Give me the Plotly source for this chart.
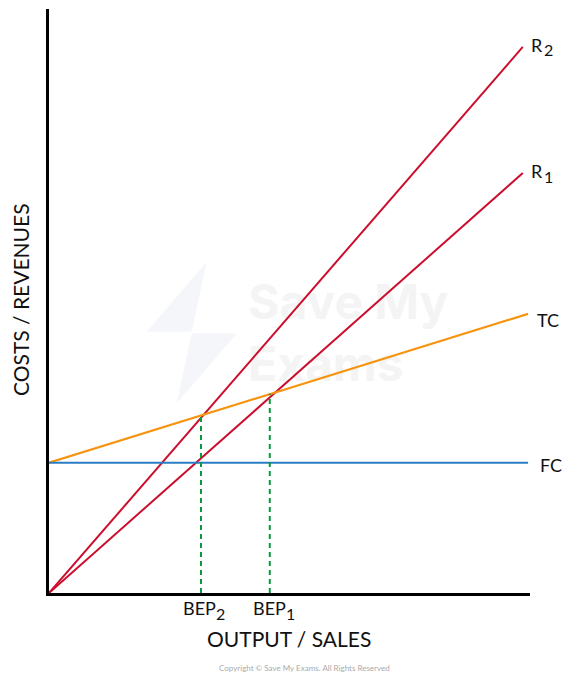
import plotly.graph_objects as go

# Data (arbitrary units)
output_range = [0, 98.5]
r2_values = [0, 93.5]
r1_values = [0, 71.9]
tc_x = [0, 99.6]
tc_values = [22.3, 47.8]
fc_x = [0, 99.6]
fc_values = [22.3, 22.3]
bep2_x = 31.6
bep2_y = 30.4
bep1_x = 45.9
bep1_y = 34.1

RED = "#cc0e2e"
ORANGE = "#f7940f"
BLUE = "#2a7dc4"
GREEN = "#0a9a3c"
FONT = "Lato"
TXT = "#111111"

# plot-area geometry (pixels) used for paper-coordinate helpers
L, R_, T, B = 49, 36, 9, 82
W, H = 566, 675
PW, PH = W - L - R_, H - T - B


def px(xp):
    return (xp - L) / PW


def py(yp):
    return (H - B - yp) / PH


fig = go.Figure()

# faint watermark (drawn beneath everything)
fig.add_trace(go.Scatter(x=[px(248) * 100], y=[py(338) * 100], mode="text",
                         text=["<b>Save My<br>Exams</b>"], textposition="middle right",
                         textfont=dict(family="Inter", size=48, color="#f4f4f5"),
                         hoverinfo="skip"))
logo = [[(206.7, 261.7), (146.7, 331.7), (191.7, 331.7)],
        [(191.7, 333.5), (236.7, 333.5), (176.7, 403.3)]]
for tri in logo:
    path = "M " + " L ".join(f"{px(a):.4f},{py(b):.4f}" for a, b in tri) + " Z"
    fig.add_shape(type="path", path=path, xref="paper", yref="paper",
                  fillcolor="#f5f6fa", line=dict(width=0), layer="below")

fig.add_trace(go.Scatter(x=output_range, y=r2_values, mode="lines",
                         line=dict(color=RED, width=2)))
fig.add_trace(go.Scatter(x=output_range, y=r1_values, mode="lines",
                         line=dict(color=RED, width=2)))
fig.add_trace(go.Scatter(x=tc_x, y=tc_values, mode="lines",
                         line=dict(color=ORANGE, width=2.2)))
fig.add_trace(go.Scatter(x=fc_x, y=fc_values, mode="lines",
                         line=dict(color=BLUE, width=2.2)))
fig.add_trace(go.Scatter(x=[bep2_x, bep2_x], y=[0, bep2_y], mode="lines",
                         line=dict(color=GREEN, width=2, dash="5px,4px")))
fig.add_trace(go.Scatter(x=[bep1_x, bep1_x], y=[0, bep1_y], mode="lines",
                         line=dict(color=GREEN, width=2, dash="5px,4px")))


def label(x, y, main, sub=None, xshift=0, yshift=0, subgap=0):
    fig.add_annotation(x=x, y=y, text=main, showarrow=False, xanchor="left",
                       yanchor="middle", xshift=xshift, yshift=yshift, borderpad=0,
                       font=dict(family=FONT, size=18, color=TXT))
    if sub is not None:
        fig.add_annotation(x=x, y=y, text=sub, showarrow=False, xanchor="left",
                           yanchor="middle", xshift=xshift + subgap, yshift=yshift - 5,
                           borderpad=0, font=dict(family=FONT, size=16, color=TXT))


label(output_range[1], r2_values[1], "R", "2", xshift=7, yshift=2, subgap=13)
label(output_range[1], r1_values[1], "R", "1", xshift=7, yshift=2, subgap=13)
label(tc_x[1], tc_values[1], "TC", xshift=8, yshift=-6)
label(fc_x[1], fc_values[1], "FC", xshift=11, yshift=-2)
label(bep2_x, 0, "BEP", "2", xshift=-19, yshift=-15, subgap=33)
label(bep1_x, 0, "BEP", "1", xshift=-18, yshift=-15, subgap=33)

fig.update_layout(
    width=W, height=H,
    margin=dict(l=L, r=R_, t=T, b=B, autoexpand=False),
    paper_bgcolor="white", plot_bgcolor="white",
    showlegend=False,
    xaxis=dict(range=[0, 100], showgrid=False, zeroline=False, showticklabels=False,
               ticks="", showline=True, linecolor="black", linewidth=2.5, automargin=False,
               fixedrange=True),
    yaxis=dict(range=[0, 100], showgrid=False, zeroline=False, showticklabels=False,
               ticks="", showline=True, linecolor="black", linewidth=2.5, automargin=False,
               fixedrange=True),
)

fig.add_annotation(x=px(289), y=py(638), xref="paper", yref="paper",
                   text="OUTPUT / SALES", showarrow=False, yanchor="middle",
                   font=dict(family=FONT, size=21, color=TXT))
fig.add_annotation(x=px(20), y=py(300), xref="paper", yref="paper",
                   text="COSTS / REVENUES", showarrow=False, textangle=-90,
                   xanchor="center", yanchor="middle",
                   font=dict(family=FONT, size=21, color=TXT))
fig.add_annotation(x=px(304), y=py(668), xref="paper", yref="paper",
                   text="Copyright © Save My Exams. All Rights Reserved", showarrow=False,
                   yanchor="middle",
                   font=dict(family=FONT, size=8, color="#aaaaaa"))

fig.write_html("out.html", config={"displayModeBar": False},
               post_script="document.body.style.margin='0';document.body.style.padding='0';")
